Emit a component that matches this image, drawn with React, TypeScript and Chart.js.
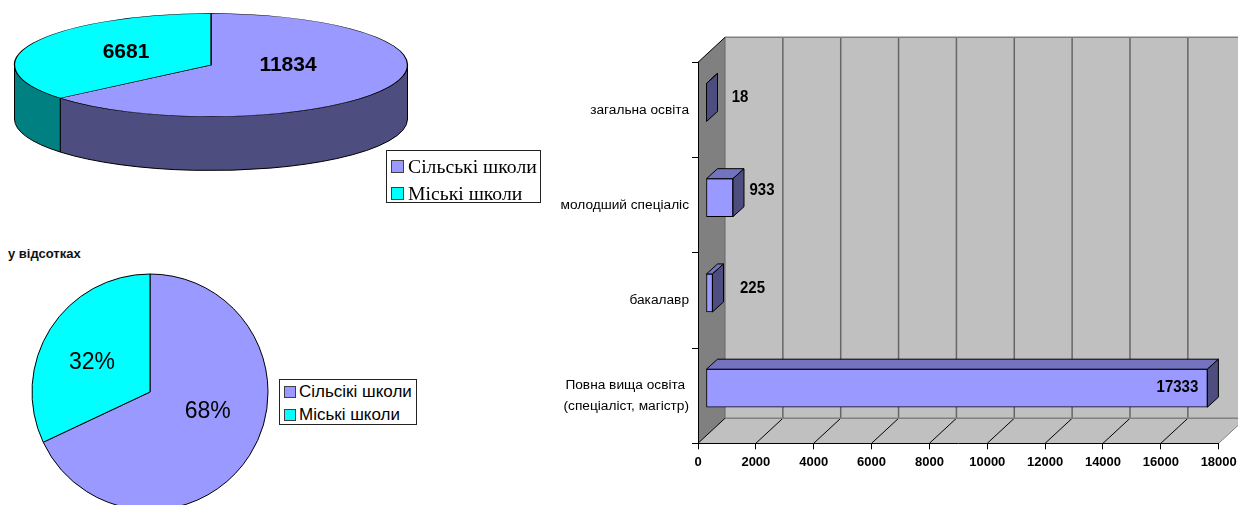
import React, { useEffect, useRef } from "react";
import { Chart, registerables } from "chart.js";

Chart.register(...registerables);

// ---- data ----
const schoolCategories3d = ["Сільські школи", "Міські школи"];
const schoolValues3d = [11834, 6681];
const schoolCategories2d = ["Сільсікі школи", "Міські школи"];
const schoolPercents = [68, 32];
const pieTitle = "у відсотках";
const eduCategories: (string | string[])[] = [
  "загальна освіта",
  "молодший спеціаліс",
  "бакалавр",
  ["Повна вища освіта ", "(спеціаліст, магістр)"],
];
const eduValues = [18, 933, 225, 17333];

// ---- styling ----
const SANS = '"Liberation Sans", Arial, sans-serif';
const NARROW = '"Liberation Sans Narrow", "Liberation Sans", Arial, sans-serif';
const SERIF = '"Liberation Serif", "Times New Roman", serif';
const pieColors = ["#9999FF", "#00FFFF"];
const pieWallColors = ["#4D4D80", "#008080"];
const barFront = "#9999FF";
const barTop = "#7373BF";
const barSide = "#4D4D80";
const valueLabelOffsets = [
  [33.5, -5.5],
  [29, -7],
  [40, -4.5],
  [-30, -0.5],
];
const pie3dLabelOffsets = [
  [77, 0.7],
  [-85, -13],
];
const pie2dLabelOffsets = [
  [57.7, 20],
  [-58, -29],
];

const Pie3dPlugin = {
  id: "pie3d",
  beforeDatasetsDraw(chart: any) {
    const ctx = chart.ctx;
    const arcs = chart.getDatasetMeta(0).data;
    const { x: ax, y: ay } = arcs[0];
    const cx = 211, cy = 65, rx = 196.5, ry = 51.5, depth = 54;
    arcs.forEach((arc: any, i: number) => {
      const a = Math.max(arc.startAngle, 0);
      const b = Math.min(arc.endAngle, Math.PI);
      if (b <= a) return;
      ctx.beginPath();
      ctx.ellipse(cx, cy, rx, ry, 0, a, b);
      ctx.lineTo(cx + rx * Math.cos(b), cy + ry * Math.sin(b) + depth);
      ctx.ellipse(cx, cy + depth, rx, ry, 0, b, a, true);
      ctx.closePath();
      ctx.fillStyle = pieWallColors[i];
      ctx.fill();
      ctx.strokeStyle = "#000";
      ctx.lineWidth = 1;
      ctx.stroke();
    });
    ctx.save();
    ctx.translate(cx, cy);
    ctx.scale(1, ry / rx);
    ctx.translate(-ax, -ay);
  },
  afterDatasetsDraw(chart: any) {
    const ctx = chart.ctx;
    ctx.restore();
    ctx.font = `bold 21px ${SANS}`;
    ctx.fillStyle = "#000";
    ctx.textAlign = "center";
    ctx.textBaseline = "middle";
    schoolValues3d.forEach((v, i) => {
      ctx.fillText(String(v), 211 + pie3dLabelOffsets[i][0], 65 + pie3dLabelOffsets[i][1]);
    });
  },
};

const Pie2dPlugin = {
  id: "pie2d",
  afterDatasetsDraw(chart: any) {
    const ctx = chart.ctx;
    const { x, y } = chart.getDatasetMeta(0).data[0];
    ctx.save();
    ctx.font = `23px ${SANS}`;
    ctx.fillStyle = "#000";
    ctx.textAlign = "center";
    ctx.textBaseline = "middle";
    schoolPercents.forEach((v, i) => {
      ctx.fillText(`${v}%`, x + pie2dLabelOffsets[i][0], y + pie2dLabelOffsets[i][1]);
    });
    ctx.restore();
  },
};

const DX = 27, DY = -25;
const BAR_SHIFT_X = 8, BAR_SHIFT_Y = -7.5, BAR_DX = 11, BAR_DY = -10;

const Bar3dPlugin = {
  id: "bar3d",
  beforeDraw(chart: any) {
    const ctx = chart.ctx;
    const { left, right, top, bottom } = chart.chartArea;
    const xs = chart.scales.x;
    const poly = (pts: number[][], fill: string | null) => {
      ctx.beginPath();
      pts.forEach((p, i) => (i ? ctx.lineTo(p[0], p[1]) : ctx.moveTo(p[0], p[1])));
      ctx.closePath();
      if (fill) { ctx.fillStyle = fill; ctx.fill(); }
    };
    const line = (x1: number, y1: number, x2: number, y2: number, c: string, w: number) => {
      ctx.beginPath();
      ctx.moveTo(x1, y1);
      ctx.lineTo(x2, y2);
      ctx.strokeStyle = c;
      ctx.lineWidth = w;
      ctx.stroke();
    };
    // back wall
    poly([[left + DX, top + DY], [right + DX, top + DY], [right + DX, bottom + DY], [left + DX, bottom + DY]], "#C0C0C0");
    // floor
    poly([[left, bottom], [right, bottom], [right + DX, bottom + DY], [left + DX, bottom + DY]], "#C0C0C0");
    // left wall
    poly([[left, top], [left + DX, top + DY], [left + DX, bottom + DY], [left, bottom]], "#808080");
    // grid
    xs.ticks.forEach((t: any) => {
      const px = xs.getPixelForValue(t.value);
      if (t.value > 0) {
        line(px + DX, top + DY, px + DX, bottom + DY, "#666666", 1.5);
        line(px, bottom, px + DX, bottom + DY, t.value === 18000 ? "#808080" : "#000", 1);
      }
    });
    line(left + DX, top + DY, right + DX, top + DY, "#808080", 1.5);
    line(left + DX, bottom + DY, right + DX, bottom + DY, "#808080", 1.5);
    line(left + DX, top + DY, left + DX, bottom + DY, "#666666", 1);
    line(left, top, left + DX, top + DY, "#000", 1);
    line(left, bottom, left + DX, bottom + DY, "#000", 1);
  },
  beforeDatasetsDraw(chart: any) {
    chart.ctx.save();
    chart.ctx.translate(BAR_SHIFT_X, BAR_SHIFT_Y);
  },
  afterDatasetsDraw(chart: any) {
    const ctx = chart.ctx;
    const bars = chart.getDatasetMeta(0).data;
    bars.forEach((b: any) => {
      const t = b.y - b.height / 2, bt = b.y + b.height / 2;
      const s = b.base, e = b.x;
      ctx.lineWidth = 1;
      ctx.strokeStyle = "#000";
      ctx.beginPath();
      ctx.moveTo(s, t);
      ctx.lineTo(s + BAR_DX, t + BAR_DY);
      ctx.lineTo(e + BAR_DX, t + BAR_DY);
      ctx.lineTo(e, t);
      ctx.closePath();
      ctx.fillStyle = barTop;
      ctx.fill();
      ctx.stroke();
      ctx.beginPath();
      ctx.moveTo(e, t);
      ctx.lineTo(e + BAR_DX, t + BAR_DY);
      ctx.lineTo(e + BAR_DX, bt + BAR_DY);
      ctx.lineTo(e, bt);
      ctx.closePath();
      ctx.fillStyle = barSide;
      ctx.fill();
      ctx.stroke();
    });
    ctx.fillStyle = "#000";
    ctx.textAlign = "center";
    ctx.textBaseline = "middle";
    ctx.font = `bold 17px ${SANS}`;
    bars.forEach((b: any, i: number) => {
      ctx.save();
      ctx.translate(b.x + valueLabelOffsets[i][0], b.y + valueLabelOffsets[i][1]);
      ctx.scale(0.88, 1);
      ctx.fillText(String(eduValues[i]), 0, 0);
      ctx.restore();
    });
    ctx.restore();
  },
};

function Legend({ labels, style, font, top, rowGap, swatch, textLeft }: any) {
  return (
    <div
      style={{
        position: "absolute",
        boxSizing: "border-box",
        background: "#fff",
        border: "1px solid #222",
        ...style,
      }}
    >
      {labels.map((l: string, i: number) => (
        <div key={l} style={{ position: "absolute", left: 0, top: top + i * rowGap, whiteSpace: "nowrap", font, lineHeight: "16px", color: "#000" }}>
          <span style={{ position: "absolute", left: 4, top: 2, width: swatch, height: swatch, boxSizing: "border-box", background: pieColors[i], border: "1px solid #404040" }} />
          <span style={{ position: "absolute", left: textLeft, top: 0 }}>{l}</span>
        </div>
      ))}
    </div>
  );
}

export default function App() {
  const pie3dRef = useRef<HTMLCanvasElement>(null);
  const pie2dRef = useRef<HTMLCanvasElement>(null);
  const barRef = useRef<HTMLCanvasElement>(null);

  useEffect(() => {
    const common = { responsive: false, animation: false as const, devicePixelRatio: 1 };
    const noPlugins = { legend: { display: false }, title: { display: false }, tooltip: { enabled: false } };

    const pie3d = new Chart(pie3dRef.current!, {
      type: "pie",
      data: {
        labels: schoolCategories3d,
        datasets: [{ data: schoolValues3d, backgroundColor: pieColors, borderColor: "#000", borderWidth: 1.3, radius: 196.5 } as any],
      },
      options: { ...common, plugins: noPlugins } as any,
      plugins: [Pie3dPlugin],
    });

    const pie2d = new Chart(pie2dRef.current!, {
      type: "pie",
      data: {
        labels: schoolCategories2d,
        datasets: [{ data: schoolPercents, backgroundColor: pieColors, borderColor: "#000", borderWidth: 1, radius: 118 } as any],
      },
      options: { ...common, plugins: noPlugins } as any,
      plugins: [Pie2dPlugin],
    });

    const bar = new Chart(barRef.current!, {
      type: "bar",
      data: {
        labels: eduCategories as any,
        datasets: [{ data: eduValues, backgroundColor: barFront, borderColor: "#000", borderWidth: 1, borderSkipped: false, barThickness: 38, clip: false } as any],
      },
      options: {
        ...common,
        indexAxis: "y",
        layout: { padding: { top: 62.3, right: 41.3, bottom: 0, left: 0 } },
        plugins: noPlugins,
        scales: {
          x: {
            type: "linear",
            min: 0,
            max: 18000,
            afterFit: (s: any) => { s.height = 61.7; },
            grid: { drawOnChartArea: false, tickLength: 6, color: "#000" },
            border: { color: "#000" },
            ticks: {
              stepSize: 2000,
              autoSkip: false,
              maxRotation: 0,
              padding: 5,
              color: "#000",
              callback: (v: any) => String(v),
              font: { family: NARROW, size: 13, weight: "bold" },
            },
          },
          y: {
            type: "category",
            afterFit: (s: any) => { s.width = 158; },
            grid: { drawOnChartArea: false, tickLength: 6, color: "#000", offset: true },
            border: { color: "#000" },
            ticks: { padding: 3, color: "#000", autoSkip: false, font: { family: SANS, size: 13.7, lineHeight: 1.5 } },
          },
        },
      } as any,
      plugins: [Bar3dPlugin],
    });

    return () => {
      pie3d.destroy();
      pie2d.destroy();
      bar.destroy();
    };
  }, []);

  return (
    <div style={{ position: "absolute", left: 0, top: 0, width: 1238, height: 505, overflow: "hidden", background: "#fff" }}>
      <canvas ref={pie3dRef} width={430} height={220} style={{ position: "absolute", left: 0, top: 0 }} />
      <canvas ref={barRef} width={720} height={505} style={{ position: "absolute", left: 540, top: 0 }} />
      <canvas ref={pie2dRef} width={280} height={260} style={{ position: "absolute", left: 10, top: 262 }} />
      <div style={{ position: "absolute", left: 8, top: 247, font: `bold 13px ${SANS}`, lineHeight: "14px", color: "#111" }}>{pieTitle}</div>
      <Legend labels={schoolCategories3d} font={`19.7px ${SERIF}`} top={7} rowGap={26.5} swatch={13} textLeft={21} style={{ left: 386, top: 150, width: 155, height: 53 }} />
      <Legend labels={schoolCategories2d} font={`17px ${SANS}`} top={4} rowGap={23} swatch={12} textLeft={19} style={{ left: 279, top: 379, width: 138, height: 46 }} />
    </div>
  );
}
